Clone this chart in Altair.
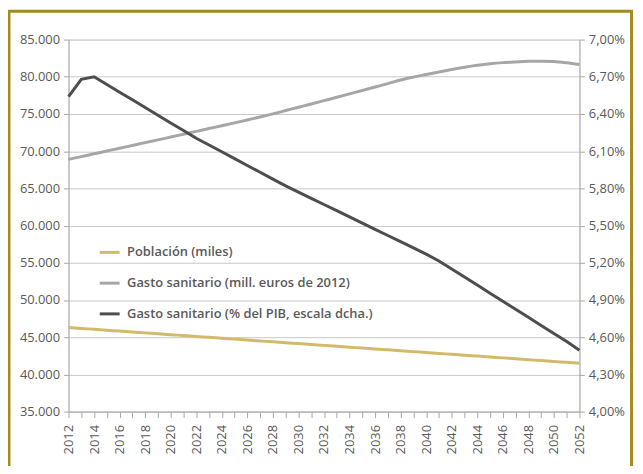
import altair as alt
import pandas as pd

years = list(range(2012, 2053))

poblacion = [46300, 46180, 46060, 45940, 45820, 45700, 45580, 45460, 45340, 45220,
             45100, 44980, 44860, 44740, 44620, 44500, 44380, 44260, 44140, 44020,
             43900, 43780, 43660, 43540, 43420, 43300, 43180, 43060, 42940, 42820,
             42700, 42580, 42460, 42340, 42220, 42100, 41980, 41860, 41740, 41620, 41500]

gasto_mill = [68900, 69270, 69650, 70020, 70400, 70770, 71150, 71520, 71900, 72280,
              72660, 73040, 73420, 73800, 74200, 74600, 75020, 75460, 75900, 76340,
              76790, 77240, 77700, 78160, 78620, 79080, 79560, 79950, 80300, 80650,
              80980, 81280, 81540, 81750, 81900, 82000, 82080, 82100, 82050, 81880, 81650]

gasto_pib = [6.54, 6.68, 6.70, 6.638, 6.576, 6.514, 6.452, 6.39, 6.328, 6.266,
             6.204, 6.15, 6.095, 6.04, 5.985, 5.93, 5.875, 5.82, 5.77, 5.72,
             5.67, 5.62, 5.57, 5.52, 5.47, 5.42, 5.37, 5.32, 5.27, 5.215,
             5.15, 5.085, 5.02, 4.955, 4.89, 4.825, 4.76, 4.695, 4.63, 4.565, 4.495]

series = ["Población (miles)",
          "Gasto sanitario (mill. euros de 2012)",
          "Gasto sanitario (% del PIB, escala dcha.)"]
colors = ["#D2BA6B", "#A6A6A6", "#4D4D4F"]

left_ticks = [35000, 40000, 45000, 50000, 55000, 60000, 65000, 70000, 75000, 80000, 85000]
right_ticks = [4.0, 4.3, 4.6, 4.9, 5.2, 5.5, 5.8, 6.1, 6.4, 6.7, 7.0]

df_left = pd.DataFrame({
    "year": years * 2,
    "value": poblacion + gasto_mill,
    "serie": [series[0]] * len(years) + [series[1]] * len(years),
})
df_right = pd.DataFrame({"year": years, "value": gasto_pib, "serie": [series[2]] * len(years)})

FONT = "Open Sans"
TXT = "#595959"

x_enc = alt.X("year:Q", title=None,
              scale=alt.Scale(domain=[2012, 2052], nice=False, zero=False),
              axis=alt.Axis(values=years, labelExpr="datum.value % 2 == 0 ? datum.value : ''",
                            format="d", labelAngle=-90, tickSize=6, labelPadding=7,
                            grid=False, domainColor="#A6A6A6", tickColor="#A6A6A6",
                            labelColor=TXT, labelFont=FONT, labelFontSize=13,
                            labelOverlap=False, labelFlush=False))

color_enc = alt.Color("serie:N", sort=series,
                      scale=alt.Scale(domain=series, range=colors),
                      legend=alt.Legend(title=None, orient="none", legendX=30, legendY=203,
                                        symbolType="stroke", symbolSize=400, symbolStrokeWidth=3,
                                        labelFont=FONT, labelFontSize=13, labelFontWeight=600,
                                        labelColor=TXT, labelOffset=6, rowPadding=12,
                                        padding=0, labelLimit=400))

left = alt.Chart(df_left).mark_line(strokeWidth=3, interpolate="monotone").encode(
    x=x_enc,
    y=alt.Y("value:Q", title=None,
            scale=alt.Scale(domain=[35000, 85000], nice=False, zero=False),
            axis=alt.Axis(orient="left", values=left_ticks,
                          labelExpr="replace(format(datum.value, ',.0f'), ',', '.')",
                          grid=True, gridColor="#C8C8C8", gridWidth=1,
                          domainColor="#A6A6A6", tickColor="#A6A6A6", tickSize=5,
                          labelPadding=4, labelColor=TXT, labelFont=FONT, labelFontSize=13)),
    color=color_enc,
    order=alt.Order("year:Q"),
)

right = alt.Chart(df_right).mark_line(strokeWidth=3).encode(
    x=x_enc,
    y=alt.Y("value:Q", title=None,
            scale=alt.Scale(domain=[4.0, 7.0], nice=False, zero=False),
            axis=alt.Axis(orient="right", values=right_ticks,
                          labelExpr="replace(format(datum.value, '.2f'), '.', ',') + '%'",
                          grid=False, domainColor="#A6A6A6", tickColor="#A6A6A6", tickSize=5,
                          labelPadding=4, labelColor=TXT, labelFont=FONT, labelFontSize=13)),
    color=color_enc,
)

frame = alt.Chart(pd.DataFrame({"k": [0]})).mark_rect(
    fill=None, fillOpacity=0, stroke="#A38B1D", strokeWidth=3
).encode(
    x=alt.value(-60), x2=alt.value(567.5), y=alt.value(-28.5), y2=alt.value(600)
)

chart = alt.layer(left, right, frame).resolve_scale(y="independent").properties(
    width=515, height=375,
    autosize=alt.AutoSizeParams(type="none"),
    padding={"left": 61, "top": 30, "right": 56, "bottom": 53},
).configure_view(stroke=None).configure(background="white")

chart.save("out.html", embed_options={"renderer": "svg", "actions": False})
